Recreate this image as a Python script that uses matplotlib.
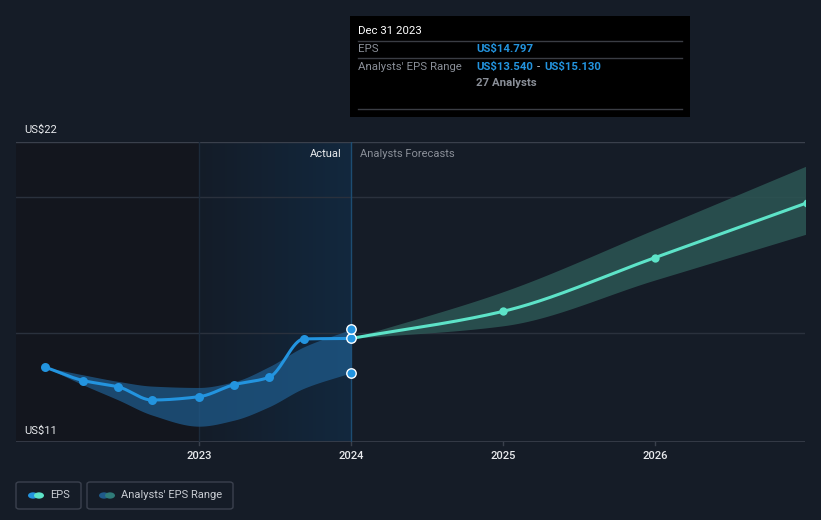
import numpy as np
import matplotlib
matplotlib.use("Agg")
import matplotlib.pyplot as plt
from matplotlib.patches import FancyBboxPatch, Rectangle, Circle
from matplotlib.colors import to_rgb

plt.rcParams['font.family'] = ['Roboto', 'DejaVu Sans']

# ---------------- data ----------------
hist_dates = [2021.99, 2022.24, 2022.47, 2022.69, 2023.0, 2023.23, 2023.46, 2023.69, 2024.0]
hist_eps = [13.74, 13.25, 13.02, 12.54, 12.66, 13.10, 13.37, 14.78, 14.797]
hist_range_dates = [2021.99, 2022.24, 2022.47, 2022.69, 2023.0, 2023.23, 2023.46, 2023.69, 2024.0]
hist_range_low = [13.74, 13.09, 12.54, 11.99, 11.58, 11.80, 12.29, 12.97, 13.54]
hist_range_high = [13.74, 13.46, 13.22, 13.05, 13.00, 13.21, 13.76, 14.49, 15.13]

fc_dates = [2024.0, 2025.0, 2026.0, 2027.0]
fc_eps = [14.797, 15.79, 17.76, 19.77]
fc_low = [14.797, 15.26, 16.94, 18.63]
fc_high = [14.797, 16.51, 18.80, 21.13]

year_ticks = [2023, 2024, 2025, 2026]
year_labels = ["2023", "2024", "2025", "2026"]
y_labels = ["US$11", "US$22"]
grid_vals = [15, 20]

tooltip_date = "Dec 31 2023"
tooltip_eps = "US$14.797"
tooltip_low = "US$13.540"
tooltip_high = "US$15.130"
tooltip_analysts = "27 Analysts"

# ---------------- style ----------------
BG = "#151c27"
PAST = "#13161e"
BLUE = "#2394df"
TEAL = "#5de3c8"
TXT = "#e8eaed"
GRAY = "#8a8f98"
W, H = 821, 520


def mono_cubic(x, y, n=200):
    x = np.asarray(x, float)
    y = np.asarray(y, float)
    h = np.diff(x)
    d = np.diff(y) / h
    m = np.zeros_like(y)
    m[0], m[-1] = d[0], d[-1]
    for i in range(1, len(y) - 1):
        if d[i - 1] * d[i] <= 0:
            m[i] = 0
        else:
            w1 = 2 * h[i] + h[i - 1]
            w2 = h[i] + 2 * h[i - 1]
            m[i] = (w1 + w2) / (w1 / d[i - 1] + w2 / d[i])
    xs, ys = [], []
    for i in range(len(x) - 1):
        t = np.linspace(0, 1, n, endpoint=(i == len(x) - 2))
        h00 = 2 * t**3 - 3 * t**2 + 1
        h10 = t**3 - 2 * t**2 + t
        h01 = -2 * t**3 + 3 * t**2
        h11 = t**3 - t**2
        xs.append(x[i] + t * h[i])
        ys.append(h00 * y[i] + h10 * h[i] * m[i] + h01 * y[i + 1] + h11 * h[i] * m[i + 1])
    return np.concatenate(xs), np.concatenate(ys)


fig = plt.figure(figsize=(W / 100, H / 100), dpi=100, facecolor=BG)
px_l, px_r, px_t, px_b = 16, 805, 142, 442
ax = fig.add_axes([px_l / W, 1 - px_b / H, (px_r - px_l) / W, (px_b - px_t) / H])
ax.set_facecolor(BG)
x0 = 2023 - (199 - px_l) / 152.0
x1 = 2024 + (px_r - 351) / 152.0
ax.set_xlim(x0, x1)
ax.set_ylim(11, 22)
for s in ax.spines.values():
    s.set_visible(False)
ax.set_xticks([])
ax.set_yticks([])

# past shading
ax.axvspan(x0, 2023.0, color=PAST, zorder=0, lw=0)
# gradient from 2023 to 2024
c1 = np.array(to_rgb("#141c28"))
c2 = np.array(to_rgb("#12283e"))
tt = np.linspace(0, 1, 256)[None, :, None]
grad = c1 + (c2 - c1) * tt
grad = np.repeat(grad, 2, axis=0)
ax.imshow(grad, extent=[2023.0, 2024.0, 11, 22], aspect='auto', zorder=0.5, interpolation='bilinear')
ax.set_xlim(x0, x1)
ax.set_ylim(11, 22)

# grid lines
for g in grid_vals:
    ax.axhline(g, color="#2a313d", lw=1, zorder=1)
ax.axhline(22, color="#3a404c", lw=1, zorder=1)
ax.axhline(11, color="#3a404c", lw=1.2, zorder=1)
# vertical lines
ax.axvline(2023.0, color="#1c2a3a", lw=1, zorder=1)
ax.axvline(2024.0, color="#1d4d72", lw=1, zorder=2)

# tick marks & labels
for yr, lab in zip(year_ticks, year_labels):
    ax.plot([yr, yr], [11, 11 - 0.1], color="#3a404c", lw=1, clip_on=False, zorder=3)
    ax.text(yr, 10.5, lab, color=TXT, fontsize=8, ha='center', va='center', fontweight='medium')
ax.text(0.011, 22.0 + 0.45, y_labels[1], transform=ax.get_yaxis_transform(), color=TXT,
        fontsize=8, ha='left', va='center')
ax.text(0.011, 11.0 + 0.42, y_labels[0], transform=ax.get_yaxis_transform(), color=TXT,
        fontsize=8, ha='left', va='center')

ax.text(2024.0 - 0.06, 21.55, "Actual", color=TXT, fontsize=8, ha='right', va='center')
ax.text(2024.0 + 0.06, 21.55, "Analysts Forecasts", color=GRAY, fontsize=8, ha='left', va='center')

# historical band
bx, blo = mono_cubic(hist_range_dates, hist_range_low)
_, bhi = mono_cubic(hist_range_dates, hist_range_high)
ax.fill_between(bx, blo, bhi, color="#1f5a8a", alpha=0.75, lw=0, zorder=2)

# forecast band
fx, flo = mono_cubic(fc_dates, fc_low)
_, fhi = mono_cubic(fc_dates, fc_high)
ax.fill_between(fx, flo, fhi, color="#2c5654", alpha=0.85, lw=0, zorder=2)

# lines
hx, hy = mono_cubic(hist_dates, hist_eps)
ax.plot(hx, hy, color=BLUE, lw=2.2, zorder=4, solid_capstyle='round')
fx2, fy2 = mono_cubic(fc_dates, fc_eps)
ax.plot(fx2, fy2, color=TEAL, lw=2.2, zorder=4, solid_capstyle='round')

ax.scatter(hist_dates[:-1], hist_eps[:-1], s=42, color=BLUE, zorder=5, lw=0)
ax.scatter(fc_dates[1:], fc_eps[1:], s=36, color=TEAL, zorder=5, lw=0)
ax.scatter([2024.0] * 3, [hist_eps[-1], hist_range_low[-1], hist_range_high[-1]], s=46,
           color=BLUE, edgecolor="white", lw=1.0, zorder=6, clip_on=False)

# ---------------- tooltip ----------------
def fx_(p):
    return p / W


def fy_(p):
    return 1 - p / H


fig.patches.append(Rectangle((fx_(350), fy_(117)), (690 - 350) / W, (117 - 16) / H,
                             transform=fig.transFigure, facecolor="black", edgecolor="none", zorder=10))
for yy in [41, 58, 109]:
    fig.lines.append(plt.Line2D([fx_(358), fx_(682)], [fy_(yy), fy_(yy)], transform=fig.transFigure,
                                color="#3a3d44", lw=1, zorder=11))
TF = 8.2
fig.text(fx_(358), fy_(31), tooltip_date, color="white", fontsize=TF, va='center', ha='left', zorder=12)
fig.text(fx_(358), fy_(49), "EPS", color=GRAY, fontsize=TF, va='center', ha='left', zorder=12)
fig.text(fx_(476), fy_(49), tooltip_eps, color=BLUE, fontsize=TF, va='center', ha='left',
         fontweight='bold', zorder=12)
fig.text(fx_(358), fy_(67), "Analysts' EPS Range", color=GRAY, fontsize=TF, va='center', ha='left', zorder=12)
t_low = fig.text(fx_(476), fy_(67), tooltip_low, color=BLUE, fontsize=TF, va='center', ha='left',
                 fontweight='bold', zorder=12)
fig.canvas.draw()
rend = fig.canvas.get_renderer()
end_px = t_low.get_window_extent(renderer=rend).x1
t_dash = fig.text((end_px + 4) / W, fy_(67), "-", color="#c8ccd2", fontsize=TF, va='center',
                  ha='left', zorder=12)
dash_end = t_dash.get_window_extent(renderer=rend).x1
fig.text((dash_end + 4) / W, fy_(67), tooltip_high, color=BLUE, fontsize=TF, va='center', ha='left',
         fontweight='bold', zorder=12)
fig.text(fx_(476), fy_(83), tooltip_analysts, color=GRAY, fontsize=TF, va='center', ha='left',
         fontweight='bold', zorder=12)

# ---------------- legend ----------------
def legend_box(xl, xr, label, ca, cb):
    fig.patches.append(FancyBboxPatch((fx_(xl), fy_(509)), (xr - xl) / W, (509 - 482) / H,
                                      boxstyle="round,pad=0,rounding_size=0.004",
                                      transform=fig.transFigure, facecolor=BG,
                                      edgecolor="#3b414e", lw=1, zorder=10))
    cy = 495.5
    fig.patches.append(Circle((fx_(xl + 17), fy_(cy)), 5 / W, transform=fig.transFigure,
                              facecolor=ca, edgecolor='none', zorder=11))
    fig.patches.append(Circle((fx_(xl + 23), fy_(cy)), 5 / W, transform=fig.transFigure,
                              facecolor=cb, edgecolor='none', zorder=12))
    fig.text(fx_(xl + 34), fy_(cy), label, color="#c8ccd2", fontsize=8, va='center', ha='left', zorder=13)


legend_box(16, 81, "EPS", BLUE, TEAL)
legend_box(87, 233, "Analysts' EPS Range", "#1f5a8a", "#2f7b78")

fig.savefig("out.png", dpi=100, facecolor=BG)
